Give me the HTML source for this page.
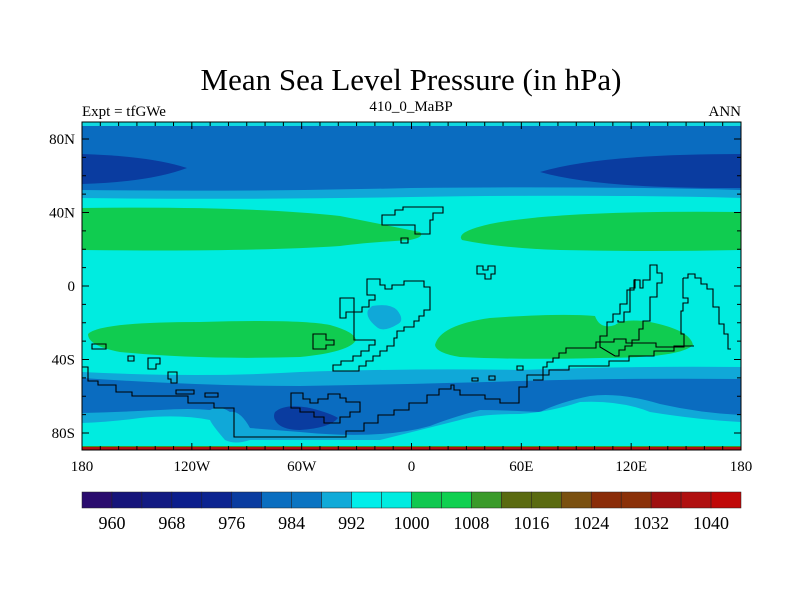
<!DOCTYPE html>
<html><head><meta charset="utf-8">
<style>
html,body{margin:0;padding:0;background:#fff;}
svg{display:block;font-family:"Liberation Serif",serif;}
</style></head>
<body>
<svg width="800" height="600" viewBox="0 0 800 600">
<text x="411" y="90" font-size="31" text-anchor="middle">Mean Sea Level Pressure (in hPa)</text>
<text x="82" y="116" font-size="15">Expt = tfGWe</text>
<text x="411" y="111" font-size="15" text-anchor="middle">410_0_MaBP</text>
<text x="741" y="116" font-size="15" text-anchor="end">ANN</text>

<defs><clipPath id="mc"><rect x="82" y="122" width="659" height="328"/></clipPath></defs>
<g clip-path="url(#mc)">
<rect x="82" y="122" width="659" height="328" fill="#00ece0"/>
<rect x="82" y="122" width="659" height="4" fill="#10d8e0"/>
<path d="M82,126 H741 V198 Q600,194 411,197 Q250,200 82,198 Z" fill="#10a8d8"/>
<path d="M82,126 H741 V190 Q600,186 411,188 Q250,192 82,190 Z" fill="#0a6cc0"/>
<path d="M82,154 Q150,156 187,168 Q150,182 82,184 Z" fill="#0a3ca0"/>
<path d="M741,154 Q600,154 540,172 Q600,189 741,188 Z" fill="#0a3ca0"/>
<path d="M82,208 Q250,206 340,216 Q380,224 420,232 Q425,237 410,240 Q360,243 340,246 Q250,252 82,250 Z" fill="#10cc50"/>
<path d="M741,212 Q560,210 490,224 Q455,232 462,240 Q500,248 560,250 Q650,252 741,250 Z" fill="#10cc50"/>
<path d="M372,306 Q390,303 397,310 Q405,320 398,324 Q385,332 378,328 Q365,318 368,310 Z" fill="#10a8d8"/>
<path d="M88,334 Q100,322 200,322 Q300,319 330,325 Q355,332 356,340 Q350,352 300,357 Q200,360 120,352 Q88,346 88,334 Z" fill="#10cc50"/>
<path d="M435,345 Q440,325 490,318 Q560,313 595,316 Q600,330 615,325 Q625,318 650,322 Q690,330 693,345 Q680,358 600,358 Q520,360 460,357 Q436,353 435,345 Z" fill="#10cc50"/>
<path d="M82,372 Q200,378 300,372 Q420,368 520,370 Q620,366 741,367 V447 H82 Z" fill="#10a8d8"/>
<path d="M82,378 Q200,386 300,386 Q420,384 520,381 Q620,378 741,379 V415 Q700,413 660,404 Q620,392 590,396 Q560,402 540,412 Q500,410 480,410 Q450,418 430,426 Q380,440 300,432 L250,428 Q240,410 230,412 Q220,405 210,410 Q190,408 160,410 Q120,412 82,413 Z" fill="#0a6cc0"/>
<path d="M741,422 Q700,420 650,412 Q620,400 580,402 Q550,412 520,414 Q480,414 460,420 Q420,430 380,440 L250,440 Q235,445 225,440 Q212,425 210,420 Q180,414 140,418 Q110,422 82,423 V447 H741 Z" fill="#00ece0"/>
<path d="M275,412 Q285,403 310,408 Q330,413 338,418 Q330,428 300,430 Q285,430 278,424 Q272,418 275,412 Z" fill="#0a3ca0"/>
<rect x="82" y="446" width="659" height="2" fill="#3a9a2a"/>
<rect x="82" y="447" width="659" height="4" fill="#b01010"/>
<g fill="none" stroke="#000" stroke-width="1.1">
<path d="M382,215 H395 V210 H403 V207 H443 V213 H433 V220 H430 V234 H415 V225 H382 Z"/>
<path d="M401,238 h7 v5 h-7 Z"/>
<path d="M477,266 h6 v4 h5 v-4 h7 v8 h-4 v5 h-6 v-5 h-8 Z"/>
<path d="M367,279 h13 v6 h5 v4 h7 v-4 h12 v-4 h20 v6 h6 v23 h-6 v6 h-5 v5 h-5 v6 h-10 v4 h-7 v7 h-3 v8 h-7 v5 h-7 v5 h-7 v5 h-7 v5 h-7 v5 h-26 v-6 h8 v-4 h12 v-5 h8 v-5 h8 v-6 h6 v-5 h-21 v-28 h8 v-5 h7 v-7 h6 v-5 h-8 Z"/>
<path d="M340,298 h14 v14 h-8 v6 h-6 Z"/>
<path d="M313,334 h13 v6 h8 v5 h-8 v4 h-13 Z"/>
<path d="M92,344 h14 v5 h-14 Z M128,356 h6 v5 h-6 Z M148,358 h12 v6 h-4 v5 h-8 Z M168,372 h9 v11 h-6 v-4 h-3 Z"/>
<path d="M600,347 V336 h7 v-14 h6 v-8 h7 v-10 h7 v-14 h7 v-10 h6 v8 h3 v-8 h7 v-15 h7 v8 h5 v10 h-5 v14 h-7 v24 h-7 v8 h-4 v11 h-7 v6 h-7 v4 h-6 v6 h-4 Z"/>
<path d="M635,279 v9 h-5 v24 h-6 v10 h-6 v-2"/>
<path d="M683,278 h5 v-4 h7 v4 h6 v6 h6 v5 h6 v18 h6 v17 h5 v10 h4 v15 h3"/>
<path d="M683,278 v20 h5 v5 h-5 v8 h-2 v23 h3 v13 h-28 v-4 h-30 v-4 h-12 v3 h-18 v6 h-30 v5 h-7 v5 h-6 v4 h-6 v5 h-4 v13 h-10"/>
<path d="M517,366 h6 v4 h-6 Z M489,376 h6 v4 h-6 Z M472,378 h6 v3 h-6 Z"/>
<path d="M82,367 h6 v14 h10 v4 h18 v7 h16 v4 h56 v7 h26 v5 h20 v29 h112 v-6 h18 v-8 h14 v-8 h16 v-5 h15 v-7 h18 v-8 h12 v-6 h12 v-4 h3 v5 h6 v5 h25 v4 h15 v4 h19 v-16 h8 v-12 h22 v-5 h20 v-4 h40 v-5 h20 v-5 h25 v-5 h20 v-5 h20"/>
<path d="M176,390 h18 v4 h-18 Z M205,393 h13 v4 h-13 Z"/>
<path d="M291,393 h12 v6 h7 v4 h8 v-4 h10 v-5 h12 v4 h6 v4 h14 v10 h-10 v5 h-10 v6 h-16 v-6 h-10 v-5 h-14 v-4 h-9 Z"/>
</g>
</g>
<rect x="82" y="122" width="659" height="328" fill="none" stroke="#000" stroke-width="1"/>
<g id="ticks" stroke="#000" stroke-width="1"></g>
<g id="labels" font-size="15"></g>
<g id="cbar"></g>
</svg>
<script>
const cbLevels=[960,964,968,972,976,980,984,988,992,996,1000,1004,1008,1012,1016,1020,1024,1028,1032,1036,1040];
const cbColors=["#2a0c6e","#16147a","#121a82","#0c1e8c","#0c2490","#0a3ca0","#0a6ec0","#0a74c2","#10aad8","#00eeea","#00ece0","#10c850","#10d050","#3a9a2a","#5a6a10","#5a6a10","#7a5010","#8a2c08","#8a3008","#a01010","#b01010","#c00808"];
const lonLabels=["180","120W","60W","0","60E","120E","180"];
const latLabels=["80N","40N","0","40S","80S"];
const latVals=[80,40,0,-40,-80];
const NS="http://www.w3.org/2000/svg";
const X0=82,X1=741,Y0=122,Y1=450;
const lx=lon=>X0+(lon+180)/360*(X1-X0);
const ly=lat=>286-lat*1.8375;
const tg=document.getElementById('ticks');
function ln(x1,y1,x2,y2){const l=document.createElementNS(NS,'line');l.setAttribute('x1',x1);l.setAttribute('y1',y1);l.setAttribute('x2',x2);l.setAttribute('y2',y2);tg.appendChild(l);}
for(let lon=-180;lon<=180;lon+=10){const x=lx(lon);const L=lon%60===0?7:4;ln(x,Y0,x,Y0+L);ln(x,Y1,x,Y1-L);}
for(let lat=-90;lat<=90;lat+=10){const y=ly(lat);if(y<Y0||y>Y1)continue;const L=lat%40===0?7:4;ln(X0,y,X0+L,y);ln(X1,y,X1-L,y);}
const lg=document.getElementById('labels');
lonLabels.forEach((t,i)=>{const e=document.createElementNS(NS,'text');e.setAttribute('x',lx(-180+60*i));e.setAttribute('y',471);e.setAttribute('text-anchor','middle');e.textContent=t;


lg.appendChild(e);});
latLabels.forEach((t,i)=>{const e=document.createElementNS(NS,'text');e.setAttribute('x',75);e.setAttribute('y',ly(latVals[i])+5);e.setAttribute('text-anchor','end');e.textContent=t;


lg.appendChild(e);});
const cb=document.getElementById('cbar');
const bw=(X1-X0)/cbColors.length;
cbColors.forEach((c,i)=>{const r=document.createElementNS(NS,'rect');r.setAttribute('x',X0+i*bw);r.setAttribute('y',492);r.setAttribute('width',bw);r.setAttribute('height',16);r.setAttribute('fill',c);r.setAttribute('stroke','#222');r.setAttribute('stroke-width','0.5');


cb.appendChild(r);});
cbLevels.forEach((v,i)=>{if(i%2)return;const e=document.createElementNS(NS,'text');e.setAttribute('x',X0+(i+1)*bw);e.setAttribute('y',529);e.setAttribute('font-size','18');e.setAttribute('text-anchor','middle');e.textContent=v;


cb.appendChild(e);});
</script>
</body></html>
